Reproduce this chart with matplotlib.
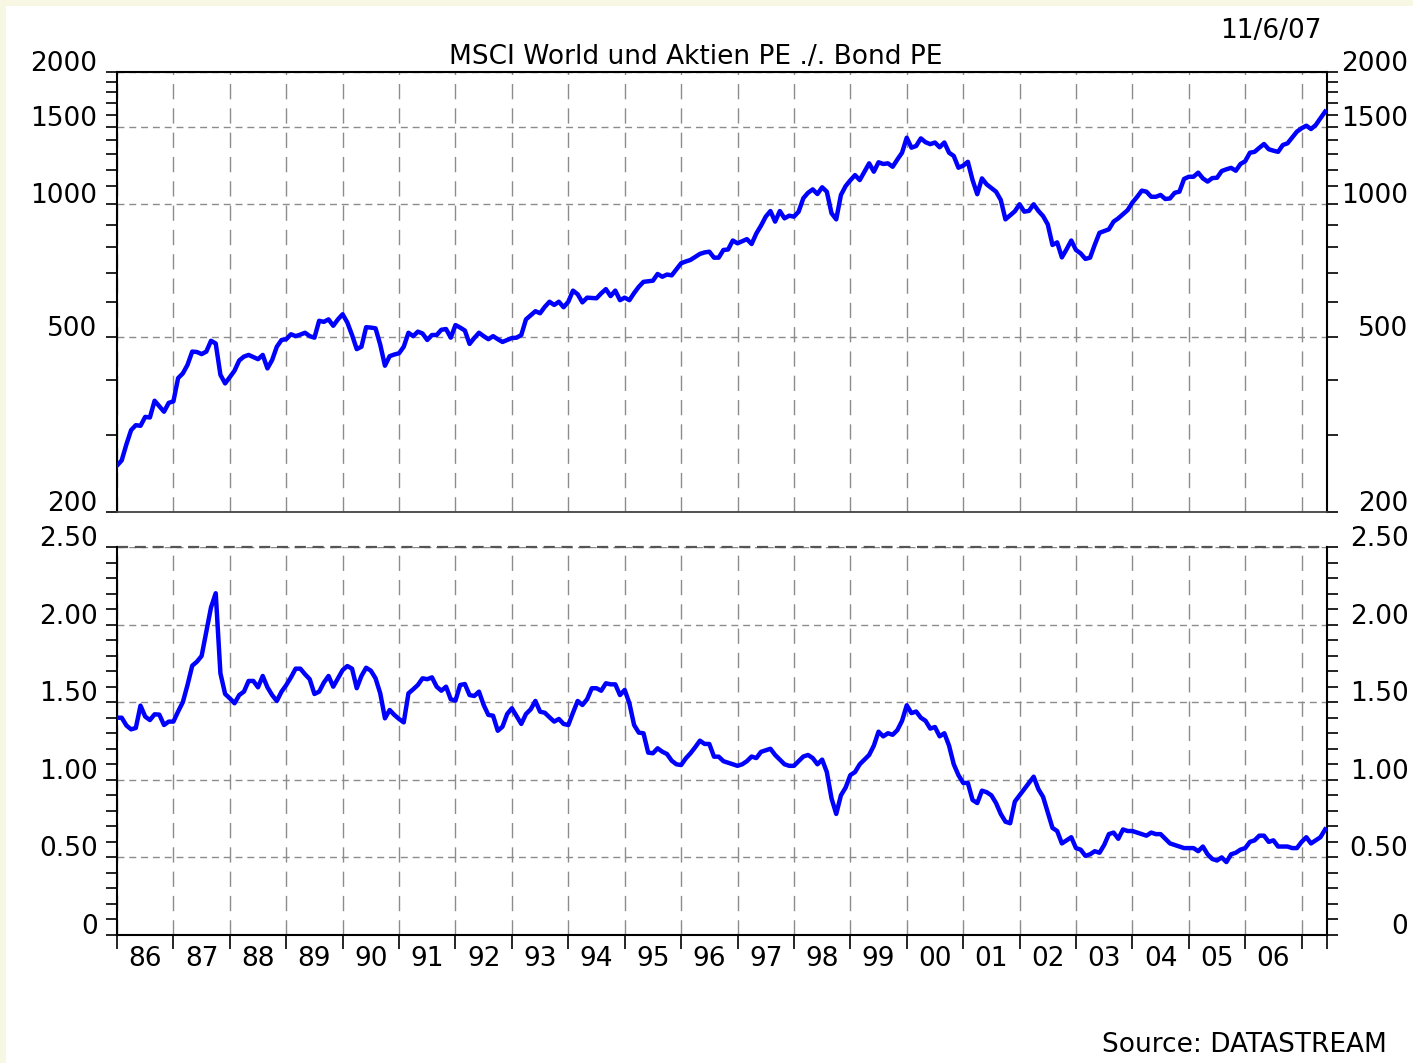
import numpy as np
import matplotlib
matplotlib.use("Agg")
import matplotlib.pyplot as plt
import matplotlib.transforms as mtransforms
from matplotlib.patches import Rectangle
from matplotlib.ticker import FixedLocator, FixedFormatter, NullFormatter

# monthly values, Jan 1986 .. Jun 2007
START_YEAR = 1986
msci_pe = [
    255, 262, 285, 307, 315, 314, 329, 328, 358, 348, 338, 354,
    357, 403, 413, 432, 463, 462, 457, 463, 490, 483, 410, 392,
    405, 419, 442, 451, 455, 450, 445, 455, 424, 443, 475, 492,
    494, 507, 502, 506, 511, 502, 498, 544, 541, 548, 530, 548,
    563, 539, 505, 469, 475, 526, 525, 523, 480, 430, 452, 456,
    459, 475, 511, 502, 514, 509, 492, 505, 505, 519, 521, 498,
    532, 525, 517, 482, 497, 511, 502, 494, 502, 494, 487, 492,
    497, 498, 505, 548, 560, 572, 566, 585, 601, 591, 601, 584,
    601, 637, 625, 599, 614, 613, 612, 628, 642, 619, 637, 606,
    614, 606, 629, 650, 667, 669, 671, 695, 685, 693, 690, 712,
    735, 742, 748, 760, 772, 778, 781, 757, 757, 788, 790, 828,
    816, 825, 834, 813, 859, 895, 938, 966, 914, 966, 930, 943,
    938, 963, 1033, 1063, 1082, 1056, 1094, 1069, 955, 925, 1051, 1101,
    1135, 1166, 1136, 1187, 1240, 1187, 1247, 1236, 1240, 1218, 1265, 1311,
    1418, 1346, 1358, 1413, 1385, 1371, 1383, 1349, 1383, 1311, 1289, 1212,
    1225, 1250, 1136, 1055, 1146, 1111, 1090, 1069, 1024, 925, 945, 965,
    1001, 963, 967, 1001, 967, 941, 901, 809, 820, 758, 791, 828,
    788, 774, 752, 757, 810, 862, 870, 878, 914, 930, 950, 971,
    1010, 1040, 1075, 1069, 1041, 1041, 1051, 1029, 1032, 1063, 1069, 1143,
    1156, 1156, 1181, 1146, 1127, 1148, 1150, 1191, 1202, 1211, 1193, 1236,
    1254, 1311, 1317, 1345, 1372, 1335, 1325, 1317, 1365, 1377, 1420, 1464,
    1490, 1510, 1484, 1515, 1570, 1625,
]

pe_ratio = [
    1.40, 1.40, 1.35, 1.325, 1.334, 1.478, 1.407, 1.385, 1.422, 1.420, 1.353, 1.375,
    1.375, 1.44, 1.50, 1.611, 1.735, 1.761, 1.798, 1.954, 2.111, 2.202, 1.686, 1.553,
    1.525, 1.493, 1.546, 1.568, 1.637, 1.637, 1.596, 1.669, 1.596, 1.546, 1.508, 1.568,
    1.61, 1.66, 1.716, 1.716, 1.680, 1.648, 1.553, 1.568, 1.626, 1.669, 1.600, 1.654,
    1.707, 1.733, 1.716, 1.590, 1.669, 1.722, 1.703, 1.654, 1.557, 1.396, 1.450, 1.418,
    1.392, 1.370, 1.557, 1.583, 1.611, 1.654, 1.648, 1.660, 1.600, 1.574, 1.600, 1.519,
    1.510, 1.611, 1.617, 1.546, 1.540, 1.568, 1.482, 1.418, 1.413, 1.316, 1.342, 1.424,
    1.461, 1.41, 1.360, 1.424, 1.454, 1.508, 1.439, 1.432, 1.403, 1.375, 1.392, 1.360,
    1.353, 1.432, 1.508, 1.482, 1.519, 1.590, 1.590, 1.574, 1.622, 1.615, 1.615, 1.546,
    1.579, 1.493, 1.353, 1.304, 1.300, 1.175, 1.171, 1.203, 1.181, 1.166, 1.123, 1.10,
    1.095, 1.138, 1.171, 1.21, 1.252, 1.231, 1.231, 1.149, 1.149, 1.12, 1.11, 1.10,
    1.09, 1.10, 1.12, 1.15, 1.14, 1.18, 1.19, 1.20, 1.16, 1.13, 1.10, 1.09,
    1.09, 1.12, 1.15, 1.16, 1.14, 1.10, 1.13, 1.05, 0.88, 0.78, 0.90, 0.95,
    1.03, 1.05, 1.10, 1.13, 1.16, 1.22, 1.31, 1.28, 1.30, 1.29, 1.32, 1.38,
    1.48, 1.43, 1.44, 1.40, 1.38, 1.33, 1.34, 1.28, 1.30, 1.22, 1.10, 1.03,
    0.98, 0.98, 0.87, 0.85, 0.93, 0.92, 0.90, 0.85, 0.78, 0.73, 0.72, 0.86,
    0.90, 0.94, 0.98, 1.02, 0.94, 0.89, 0.79, 0.69, 0.67, 0.59, 0.61, 0.63,
    0.56, 0.55, 0.51, 0.52, 0.54, 0.53, 0.58, 0.65, 0.66, 0.62, 0.68, 0.67,
    0.67, 0.66, 0.65, 0.64, 0.66, 0.65, 0.65, 0.62, 0.59, 0.58, 0.57, 0.56,
    0.56, 0.56, 0.54, 0.57, 0.52, 0.49, 0.48, 0.50, 0.47, 0.52, 0.53, 0.55,
    0.56, 0.60, 0.61, 0.64, 0.64, 0.60, 0.61, 0.57, 0.57, 0.57, 0.56, 0.56,
    0.60, 0.63, 0.59, 0.61, 0.63, 0.68,
]

top_ticks = [200, 500, 1000, 1500, 2000]
top_minor = [300, 400, 600, 700, 800, 900, 1100, 1200, 1300, 1400, 1600, 1700, 1800, 1900]
bottom_ticks = [0, 0.5, 1.0, 1.5, 2.0, 2.5]
bottom_labels = ["0", "0.50", "1.00", "1.50", "2.00", "2.50"]
year_labels = ["86", "87", "88", "89", "90", "91", "92", "93", "94", "95", "96",
               "97", "98", "99", "00", "01", "02", "03", "04", "05", "06"]

TITLE = "MSCI World und Aktien PE ./. Bond PE"
DATE_TEXT = "11/6/07"
SOURCE = "Source: DATASTREAM"

FS = 19
LINE = "#0000ff"
GRID = "#8c8c8c"

plt.rcParams["font.family"] = ["DejaVu Sans"]

W, H = 1413, 1063
fig = plt.figure(figsize=(W / 100, H / 100), dpi=100, facecolor="#f7f7e4")
fig.patches.append(Rectangle((6 / W, 0), 1, 1 - 6 / H, transform=fig.transFigure,
                             facecolor="white", edgecolor="none", zorder=-10))

left, right = 117 / W, 1327 / W
ax1 = fig.add_axes([left, 1 - 512 / H, right - left, 440 / H])
ax2 = fig.add_axes([left, 1 - 935 / H, right - left, 388 / H], sharex=ax1)

t1 = START_YEAR + np.arange(len(msci_pe)) / 12
t2 = START_YEAR + np.arange(len(pe_ratio)) / 12
x_end = 2007.45

ax1.plot(t1, msci_pe, color=LINE, lw=3.2, solid_joinstyle="round", zorder=3)
ax2.plot(t2, pe_ratio, color=LINE, lw=3.2, solid_joinstyle="round", zorder=3)

ax1.set_yscale("log")
ax1.set_ylim(200, 2000)
ax2.set_ylim(0, 2.5)
ax2.set_xlim(START_YEAR, x_end)

years = list(range(1986, 2008)) + [x_end]
ax2.xaxis.set_major_locator(FixedLocator(years))
ax2.xaxis.set_major_formatter(NullFormatter())
ax2.xaxis.set_minor_locator(FixedLocator([y + 0.5 for y in range(1986, 2007)]))
ax2.xaxis.set_minor_formatter(FixedFormatter(year_labels))
ax2.tick_params(axis="x", which="major", direction="out", length=10, width=1.2, colors="black")
ax2.tick_params(axis="x", which="minor", length=0, pad=8, labelsize=FS)
ax1.tick_params(axis="x", which="both", length=0, labelbottom=False)

ax1.yaxis.set_major_locator(FixedLocator(top_ticks))
ax1.yaxis.set_minor_locator(FixedLocator(top_minor))
ax1.yaxis.set_major_formatter(FixedFormatter([str(v) for v in top_ticks]))
ax1.yaxis.set_minor_formatter(NullFormatter())

ax2.yaxis.set_major_locator(FixedLocator(bottom_ticks))
ax2.yaxis.set_major_formatter(FixedFormatter(bottom_labels))
ax2.yaxis.set_minor_locator(FixedLocator([v / 10 for v in range(0, 26) if v % 5]))
ax2.yaxis.set_minor_formatter(NullFormatter())

# labels sit a little above their tick; right labels are right-aligned near the edge
up = mtransforms.ScaledTranslation(0, 11 / 100, fig.dpi_scale_trans)
shift = mtransforms.ScaledTranslation(62 / 100, 0, fig.dpi_scale_trans)
for ax in (ax1, ax2):
    ax.tick_params(axis="y", which="both", direction="out", length=8, width=1.2,
                   left=True, right=True, labelleft=True, labelright=True,
                   labelsize=FS, pad=6)
    for tick in ax.yaxis.get_major_ticks():
        tick.label1.set_transform(tick.label1.get_transform() + up)
        tick.label2.set_transform(tick.label2.get_transform() + up + shift)
        tick.label2.set_horizontalalignment("right")
    ax.grid(True, which="major", axis="y", color=GRID, lw=1.0, ls=(0, (5, 3.5)))
    ax.grid(True, which="major", axis="x", color=GRID, lw=1.0, ls=(0, (11, 6.5)))
    ax.set_facecolor("none")
    for side in ("left", "right"):
        ax.spines[side].set_linewidth(1.5)
        ax.spines[side].set_color("black")

ax1.spines["top"].set_linewidth(1.5)
ax1.spines["bottom"].set_linewidth(1.3)
ax1.spines["bottom"].set_color("#444444")
ax2.spines["top"].set_visible(False)
ax2.axhline(2.5, color="#555555", lw=1.6, ls=(0, (5, 3)), clip_on=False, zorder=2)
ax2.spines["bottom"].set_linewidth(1.5)

fig.text(696 / W, 1 - 57 / H, TITLE, ha="center", va="center", fontsize=FS)
fig.text(1322 / W, 1 - 31 / H, DATE_TEXT, ha="right", va="center", fontsize=FS)
fig.text(1387 / W, 1 - 1045 / H, SOURCE, ha="right", va="center", fontsize=FS)

fig.savefig("out.png", dpi=100, facecolor=fig.get_facecolor())
